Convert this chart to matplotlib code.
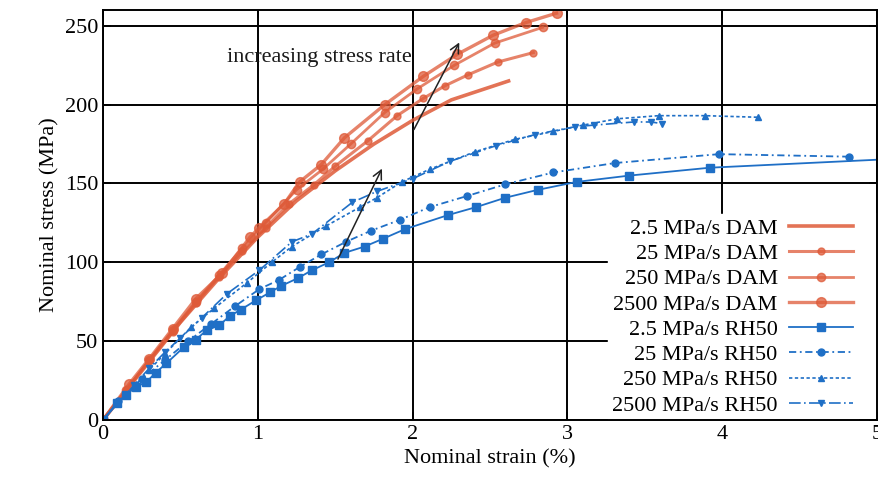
import matplotlib
matplotlib.use('Agg')
import matplotlib.pyplot as plt
from matplotlib.patches import Rectangle

plt.rcParams['font.family'] = ['Liberation Serif', 'DejaVu Serif']
plt.rcParams['font.size'] = 16

# DAM (red) curves
dam_25_x = [0, 0.25, 0.5, 0.75, 1.0, 1.25, 1.5, 1.75, 2.0, 2.25, 2.62]
dam_25_y = [0, 31, 62, 90, 116, 139, 158, 175, 190, 203, 215]

dam_250_x = [0, 0.15, 0.3, 0.45, 0.6, 0.75, 0.9, 1.05, 1.2, 1.36, 1.5, 1.71, 1.9, 2.07, 2.21, 2.36, 2.55, 2.78]
dam_250_y = [0, 19, 38, 56, 74, 91, 107, 122, 137, 149, 161, 177, 193, 204, 212, 219, 227, 233]

dam_2500_x = [0, 0.15, 0.3, 0.45, 0.6, 0.75, 0.9, 1.05, 1.25, 1.42, 1.6, 1.82, 2.03, 2.27, 2.53, 2.84]
dam_2500_y = [0, 19, 38, 57, 75, 92, 109, 125, 146, 159, 175, 195, 210, 225, 239, 249]

dam_25000_x = [0, 0.17, 0.3, 0.45, 0.6, 0.77, 0.95, 1.01, 1.17, 1.27, 1.41, 1.56, 1.82, 2.07, 2.29, 2.52, 2.73, 2.93]
dam_25000_y = [0, 23, 39, 58, 77, 93, 116, 122, 137, 151, 162, 179, 200, 218, 232, 244, 252, 258]

# RH50 (blue) curves
rh_25_x = [0, 0.09, 0.15, 0.21, 0.28, 0.34, 0.41, 0.52, 0.6, 0.67, 0.75, 0.82, 0.89, 0.99, 1.08, 1.15,
           1.26, 1.35, 1.46, 1.56, 1.69, 1.81, 1.95, 2.23, 2.41, 2.6, 2.81, 3.06, 3.40, 3.92, 5.2]
rh_25_y = [0, 11, 16, 21, 24, 30, 36, 46, 51, 57, 60, 66, 70, 76, 81, 85,
           90, 95, 100, 106, 110, 115, 121, 130, 135, 141, 146, 151, 155, 160, 166]

rh_250_x = [0, 0.1, 0.25, 0.4, 0.55, 0.7, 0.85, 1.01, 1.14, 1.27, 1.41, 1.57, 1.73, 1.92, 2.11, 2.35,
            2.6, 2.91, 3.31, 3.98, 4.82]
rh_250_y = [0, 12, 26, 38, 50, 61, 72, 83, 89, 97, 105, 113, 120, 127, 135, 142,
            149.5, 157, 163, 168.6, 167]

rh_2500_x = [0, 0.1, 0.2, 0.3, 0.4, 0.57, 0.72, 0.93, 1.09, 1.22, 1.44, 1.66, 1.77, 1.93, 2.11, 2.40,
             2.66, 2.91, 3.10, 3.32, 3.59, 3.89, 4.23]
rh_2500_y = [0, 11, 21, 32, 42, 59, 71, 87, 100, 110, 123, 135, 141, 151, 159, 170,
             178, 183, 187, 191, 193, 193, 192]

rh_25000_x = [0, 0.1, 0.2, 0.3, 0.4, 0.5, 0.64, 0.80, 1.01, 1.22, 1.35, 1.61, 1.77, 2.0, 2.24, 2.54,
              2.79, 3.05, 3.17, 3.43, 3.54, 3.61]
rh_25000_y = [0, 11, 22, 33, 43, 52, 65, 80, 95, 113, 118, 138, 145, 153, 164, 174,
              181, 186, 187, 189, 189, 188]

red = '#de5a38'
blue = '#1f6fc6'

fig = plt.figure(figsize=(8.79, 4.96), dpi=100)
ax = fig.add_axes([0.1172, 0.1532, 0.8805, 0.8266])

ax.plot(dam_25_x, dam_25_y, color=red, lw=2.6, alpha=0.85, label='2.5 MPa/s DAM')
ax.plot(dam_250_x, dam_250_y, color=red, lw=2.2, alpha=0.75, marker='o', ms=5, label='25 MPa/s DAM')
ax.plot(dam_2500_x, dam_2500_y, color=red, lw=2.0, alpha=0.75, marker='o', ms=6, label='250 MPa/s DAM')
ax.plot(dam_25000_x, dam_25000_y, color=red, lw=2.4, alpha=0.75, marker='o', ms=7, label='2500 MPa/s DAM')

ax.plot(rh_25_x, rh_25_y, color=blue, lw=1.3, marker='s', ms=6, label='2.5 MPa/s RH50')
ax.plot(rh_250_x, rh_250_y, color=blue, lw=1.3, ls=(0, (4, 2, 1, 2)), marker='o', ms=5,
        label='25 MPa/s RH50')
ax.plot(rh_2500_x, rh_2500_y, color=blue, lw=1.2, ls=(0, (2, 1.5)), marker='^', ms=5,
        label='250 MPa/s RH50')
ax.plot(rh_25000_x, rh_25000_y, color=blue, lw=1.2, ls=(0, (7, 2, 1, 2)), marker='v', ms=5,
        label='2500 MPa/s RH50')

ax.annotate('', xy=(1.81, 161), xytext=(1.51, 100.5),
            arrowprops=dict(arrowstyle='->', color='#222222', lw=1.1, mutation_scale=16))
ax.annotate('', xy=(2.31, 241), xytext=(2.0, 182.6),
            arrowprops=dict(arrowstyle='->', color='#222222', lw=1.1, mutation_scale=16))
ax.text(0.8, 230, 'increasing stress rate', fontsize=16, va='center', ha='left', color='#1a1a1a')

ax.set_xlim(0, 5)
ax.set_ylim(0, 260)
ax.set_xticks([0, 1, 2, 3, 4, 5])
ax.set_yticks([0, 50, 100, 150, 200, 250])
ax.grid(True, color='black', lw=1.4)
ax.set_axisbelow(True)
ax.tick_params(direction='in', top=True, right=True, length=6, width=1.2, labelsize=16)
for s in ax.spines.values():
    s.set_linewidth(1.4)
    s.set_zorder(6)

ax.set_xlabel('Nominal strain (%)', fontsize=16)
ax.set_ylabel('Nominal stress (MPa)', fontsize=16)

# white area behind legend up to the right frame
ax.add_patch(Rectangle((0.95, 0.005), 0.05, 0.5, transform=ax.transAxes,
                       facecolor='white', edgecolor='none', zorder=1))

leg = ax.legend(loc='lower right', bbox_to_anchor=(0.975, 0.0), markerfirst=False, frameon=True,
                fontsize=16, handlelength=2.9, labelspacing=0.21, borderaxespad=0.0, borderpad=0.2,
                handletextpad=0.5, fancybox=False)
leg.get_frame().set_edgecolor('white')
leg.get_frame().set_facecolor('white')
leg.get_frame().set_alpha(1)

fig.savefig('out.png', dpi=100)
